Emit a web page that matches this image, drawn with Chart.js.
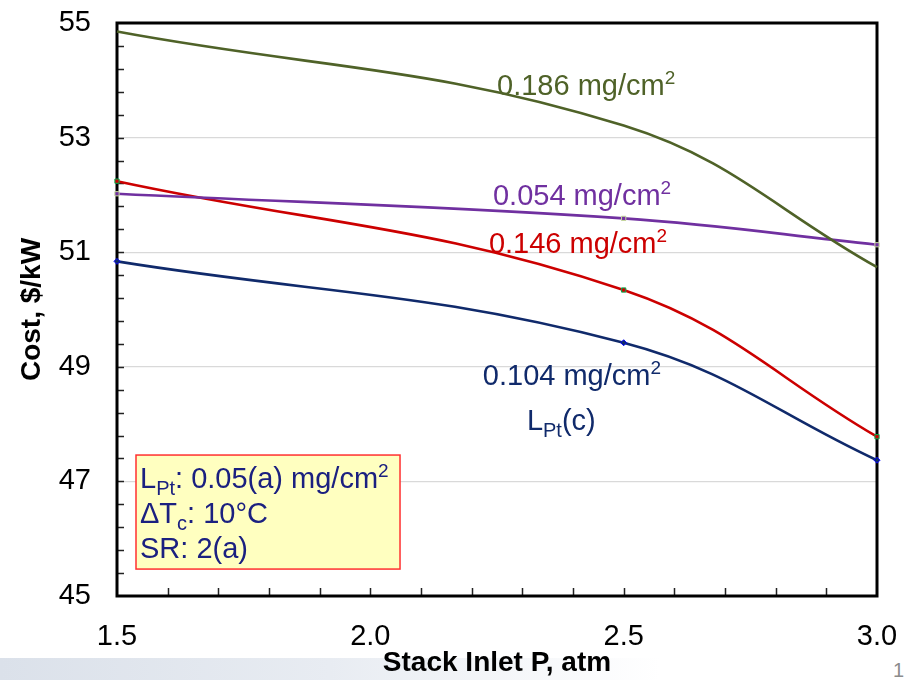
<!DOCTYPE html>
<html lang="en">
<head>
    <meta charset="UTF-8">
    <title>Cost vs Stack Inlet Pressure</title>
    <style>
        body {
            margin: 0;
            padding: 0;
            background: white;
            font-family: "Liberation Sans", Arial, sans-serif;
        }
        .wrap {
            position: relative;
            width: 907px;
            height: 680px;
            overflow: hidden;
        }
        .footer-bar {
            position: absolute;
            left: 0;
            top: 658px;
            width: 660px;
            height: 22px;
            background: linear-gradient(to right, #dbe1ea 0%, #e8ecf2 50%, #ffffff 100%);
        }
        .page-no {
            position: absolute;
            left: 893px;
            top: 659px;
            font-size: 20px;
            color: #8c8c8c;
        }
        canvas {
            position: absolute;
            left: 0;
            top: 0;
        }
    </style>
</head>
<body>
<div class="wrap">
    <div class="footer-bar"></div>
    <div class="page-no">1</div>
    <canvas id="costChart" width="907" height="680"></canvas>
</div>
<script src="https://cdn.jsdelivr.net/npm/chart.js"></script>
<script>
    // stack inlet pressure, atm
    const pressures = [1.5, 2.5, 3.0];

    // cost, $/kW for each Pt loading
    const cost186 = [54.85, 53.21, 50.74];
    const cost054 = [52.02, 51.59, 51.13];
    const cost146 = [52.24, 50.34, 47.78];
    const cost104 = [50.84, 49.42, 47.37];

    const xTicks = [1.5, 2.0, 2.5, 3.0];
    const yTicks = [45, 47, 49, 51, 53, 55];

    const NAVY = '#102a6b';
    const RED = '#cc0000';
    const PURPLE = '#7030a0';
    const GREEN = '#4f6228';
    const BOXTEXT = '#1b2080';

    function toPoints(ys) {
        return pressures.map((p, i) => ({ x: p, y: ys[i] }));
    }

    // curve labels: [text parts, x, y (data units), colour]
    const curveLabels = [
        [[['0.186 mg/cm', 'n'], ['2', 'sup']], 2.25, 53.74, GREEN],
        [[['0.054 mg/cm', 'n'], ['2', 'sup']], 2.242, 51.82, PURPLE],
        [[['0.146 mg/cm', 'n'], ['2', 'sup']], 2.234, 50.99, RED],
        [[['0.104 mg/cm', 'n'], ['2', 'sup']], 2.222, 48.68, NAVY],
        [[['L', 'n'], ['Pt', 'sub'], ['(c)', 'n']], 2.309, 47.90, NAVY]
    ];

    const boxLines = [
        [['L', 'n'], ['Pt', 'sub'], [': 0.05(a) mg/cm', 'n'], ['2', 'sup']],
        [['\u0394T', 'n'], ['c', 'sub'], [': 10\u00B0C', 'n']],
        [['SR: 2(a)', 'n']]
    ];

    function drawRich(ctx, parts, x, y, color) {
        ctx.fillStyle = color;
        ctx.textBaseline = 'alphabetic';
        ctx.textAlign = 'left';
        parts.forEach(([txt, kind]) => {
            let dy = 0;
            if (kind === 'sup') {
                ctx.font = '19px "Liberation Sans", Arial, sans-serif';
                dy = -11;
            } else if (kind === 'sub') {
                ctx.font = '20px "Liberation Sans", Arial, sans-serif';
                dy = 7;
            } else {
                ctx.font = '29px "Liberation Sans", Arial, sans-serif';
            }
            ctx.fillText(txt, x, y + dy);
            x += ctx.measureText(txt).width;
        });
    }

    const extras = {
        id: 'extras',
        beforeDatasetsDraw(chart) {
            const ctx = chart.ctx;
            const xs = chart.scales.x;
            const ys = chart.scales.y;
            const area = chart.chartArea;
            ctx.save();

            // minor tick marks, pointing inwards
            ctx.strokeStyle = '#222';
            ctx.lineWidth = 1.5;
            ctx.beginPath();
            for (let k = 1; k < 25; k++) {
                const py = Math.round(ys.getPixelForValue(45 + k * 0.4)) + 0.5;
                ctx.moveTo(area.left, py);
                ctx.lineTo(area.left + 7, py);
            }
            for (let k = 1; k < 15; k++) {
                const px = Math.round(xs.getPixelForValue(1.5 + k * 0.1)) + 0.5;
                ctx.moveTo(px, area.bottom);
                ctx.lineTo(px, area.bottom - 8);
            }
            ctx.stroke();

            // plot frame
            ctx.strokeStyle = '#000';
            ctx.lineWidth = 3;
            ctx.strokeRect(area.left, area.top, area.right - area.left, area.bottom - area.top);
            ctx.restore();
        },
        afterDraw(chart) {
            const ctx = chart.ctx;
            const xs = chart.scales.x;
            const ys = chart.scales.y;
            ctx.save();

            // curve labels
            curveLabels.forEach(([parts, lx, ly, color]) => {
                drawRich(ctx, parts, xs.getPixelForValue(lx), ys.getPixelForValue(ly), color);
            });

            // condition box
            const bx0 = xs.getPixelForValue(1.5375);
            const bx1 = xs.getPixelForValue(2.0586);
            const by0 = ys.getPixelForValue(47.46);
            const by1 = ys.getPixelForValue(45.47);
            ctx.fillStyle = '#ffffc0';
            ctx.fillRect(bx0, by0, bx1 - bx0, by1 - by0);
            ctx.strokeStyle = '#ff3030';
            ctx.lineWidth = 1.5;
            ctx.strokeRect(bx0, by0, bx1 - bx0, by1 - by0);
            boxLines.forEach((parts, i) => {
                drawRich(ctx, parts, bx0 + 4, by0 + 33 + i * 35, BOXTEXT);
            });

            ctx.restore();
        }
    };

    function series(label, ys, color, pointBorder, pointStyle, radius) {
        return {
            label: label,
            data: toPoints(ys),
            borderColor: color,
            backgroundColor: color,
            borderWidth: 2.6,
            tension: 0.4,
            clip: false,
            pointRadius: radius,
            pointStyle: pointStyle,
            pointBorderColor: pointBorder,
            pointBackgroundColor: color,
            pointBorderWidth: 1
        };
    }

    const tickFont = { family: '"Liberation Sans", Arial, sans-serif', size: 29 };
    const titleFont = { family: '"Liberation Sans", Arial, sans-serif', size: 28, weight: 'bold' };

    new Chart(document.getElementById('costChart').getContext('2d'), {
        type: 'line',
        data: {
            datasets: [
                series('0.186 mg/cm2', cost186, GREEN, GREEN, 'rect', 0),
                series('0.054 mg/cm2', cost054, PURPLE, '#c4d79b', 'rect', 3),
                series('0.146 mg/cm2', cost146, RED, '#00b050', 'rect', 3),
                series('0.104 mg/cm2', cost104, NAVY, '#0000ff', 'rectRot', 3)
            ]
        },
        options: {
            responsive: false,
            animation: false,
            layout: { padding: { top: 23, right: 30, left: 0, bottom: 0 } },
            plugins: {
                legend: { display: false },
                tooltip: { enabled: false }
            },
            scales: {
                x: {
                    type: 'linear',
                    min: 1.5,
                    max: 3.0,
                    afterBuildTicks: axis => { axis.ticks = xTicks.map(v => ({ value: v })); },
                    afterFit: axis => {
                        axis.height = 84;
                        axis.paddingLeft = 0;
                        axis.paddingRight = 0;
                    },
                    ticks: {
                        font: tickFont,
                        color: '#000',
                        padding: 16,
                        maxRotation: 0,
                        callback: v => v.toFixed(1)
                    },
                    grid: { display: false },
                    border: { display: false },
                    title: {
                        display: true,
                        text: 'Stack Inlet P, atm',
                        font: titleFont,
                        color: '#000',
                        padding: { top: 0, bottom: 0 }
                    }
                },
                y: {
                    min: 45,
                    max: 55,
                    afterBuildTicks: axis => { axis.ticks = yTicks.map(v => ({ value: v })); },
                    afterFit: axis => {
                        axis.width = 117;
                        axis.paddingTop = 0;
                        axis.paddingBottom = 0;
                    },
                    ticks: {
                        font: tickFont,
                        color: '#000',
                        padding: 26
                    },
                    grid: {
                        drawTicks: false,
                        color: ctx => (ctx.tick && (ctx.tick.value === 45 || ctx.tick.value === 55)) ? 'rgba(0,0,0,0)' : '#d9d9d9',
                        lineWidth: 1.2
                    },
                    border: { display: false },
                    title: {
                        display: true,
                        text: 'Cost, $/kW',
                        font: titleFont,
                        color: '#000',
                        padding: { top: 15, bottom: 0 }
                    }
                }
            }
        },
        plugins: [extras]
    });
</script>
</body>
</html>
